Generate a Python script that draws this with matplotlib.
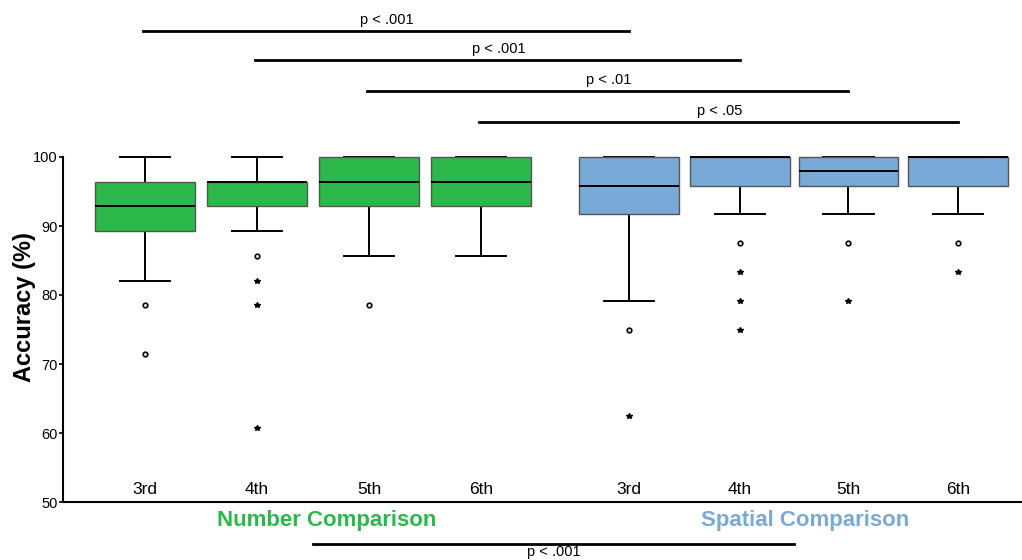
import matplotlib
matplotlib.use("Agg")
import matplotlib.pyplot as plt

plt.rcParams['font.family'] = ['Liberation Sans', 'DejaVu Sans']

# box statistics (accuracy %)
grades = ['3rd', '4th', '5th', '6th', '3rd', '4th', '5th', '6th']
task = ['Number', 'Number', 'Number', 'Number', 'Spatial', 'Spatial', 'Spatial', 'Spatial']
whislo = [82.1, 89.3, 85.7, 85.7, 79.2, 91.7, 91.7, 91.7]
q1 = [89.3, 92.9, 92.9, 92.9, 91.7, 95.8, 95.8, 95.8]
med = [92.9, 96.4, 96.4, 96.4, 95.8, 100.0, 97.9, 100.0]
q3 = [96.4, 96.4, 100.0, 100.0, 100.0, 100.0, 100.0, 100.0]
whishi = [100.0, 100.0, 100.0, 100.0, 100.0, 100.0, 100.0, 100.0]
out_circle = [[78.6, 71.4], [85.7], [78.6], [], [75.0], [87.5], [87.5], [87.5]]
out_star = [[], [82.1, 78.6, 60.7], [], [], [62.5], [83.3, 79.2, 75.0], [79.2], [83.3]]

# significance brackets: (from box, to box, label)
brackets = [(0, 4, 'p < .001'), (1, 5, 'p < .001'), (2, 6, 'p < .01'), (3, 7, 'p < .05')]
main_label = 'p < .001'

colors = {'Number': '#2db84b', 'Spatial': '#79a9d7'}
pos = [1, 2, 3, 4, 5.32, 6.31, 7.28, 8.26]

fig = plt.figure(figsize=(10.22, 5.6), dpi=100)
# axes spans from the y axis (x=63px) to the right edge, bottom at y=502px
ax = fig.add_axes([63 / 1022, 58 / 560, 1 - 63 / 1022, 502 / 560])
ax.set_xlim(1 - 82 / 112, 1 + 877 / 112)
ax.set_ylim(50, 50 + 502 / 6.9)

stats = []
for i in range(len(grades)):
    stats.append(dict(whislo=whislo[i], q1=q1[i], med=med[i], q3=q3[i],
                      whishi=whishi[i], fliers=[]))

bp = ax.bxp(stats, positions=pos, widths=0.89, capwidths=0.45,
            patch_artist=True, showfliers=False,
            boxprops=dict(edgecolor='#555555', linewidth=1.0),
            medianprops=dict(color='black', linewidth=1.4),
            whiskerprops=dict(color='black', linewidth=1.4),
            capprops=dict(color='black', linewidth=1.4))
for b, t in zip(bp['boxes'], task):
    b.set_facecolor(colors[t])
    b.set_zorder(2)
for c in bp['caps']:
    c.set_zorder(1)
for w in bp['whiskers']:
    w.set_zorder(1)
for m in bp['medians']:
    m.set_zorder(3)

for p, oc, os_ in zip(pos, out_circle, out_star):
    if oc:
        ax.plot([p] * len(oc), oc, 'o', ms=3.3, mfc='white', mec='black', mew=1.2)
    if os_:
        ax.plot([p] * len(os_), os_, '*', ms=4, color='black')

# grade labels inside the plot just above the x axis
for p, g in zip(pos, grades):
    ax.text(p, 51.75, g, ha='center', va='center', fontsize=12.5)

ax.spines['top'].set_visible(False)
ax.spines['right'].set_visible(False)
ax.spines['left'].set_bounds(50, 100)
ax.spines['left'].set_linewidth(1.5)
ax.spines['bottom'].set_linewidth(1.5)
ax.set_xticks([])
ax.set_yticks([50, 60, 70, 80, 90, 100])
ax.tick_params(axis='y', length=3, width=1.2, labelsize=10.5, pad=1)
ax.set_ylabel('Accuracy (%)', fontsize=17, fontweight='bold')
ax.yaxis.set_label_coords(-0.028, 28.3 / (502 / 6.9))

# brackets above the plot
line_y = [118.26, 114.06, 109.57, 105.07]
for (a, b, lab), y in zip(brackets, line_y):
    ax.plot([pos[a] - 0.02, pos[b]], [y, y], color='black', lw=2, clip_on=False)
    ax.text((pos[a] + pos[b]) / 2, y + 1.65, lab, ha='center', va='center', fontsize=10.5)

# group labels under the axis
ax.text(2.62, 47.25, 'Number Comparison', ha='center', va='center', fontsize=16,
        fontweight='bold', color=colors['Number'], clip_on=False)
ax.text(6.89, 47.25, 'Spatial Comparison', ha='center', va='center', fontsize=16,
        fontweight='bold', color=colors['Spatial'], clip_on=False)

mid_n = sum(pos[:4]) / 4
mid_s = sum(pos[4:]) / 4
ax.plot([mid_n, mid_s], [43.9, 43.9], color='black', lw=2, clip_on=False)
ax.text((mid_n + mid_s) / 2, 42.75, main_label, ha='center', va='center',
        fontsize=10.5, clip_on=False)

fig.savefig('out.png', dpi=100)
